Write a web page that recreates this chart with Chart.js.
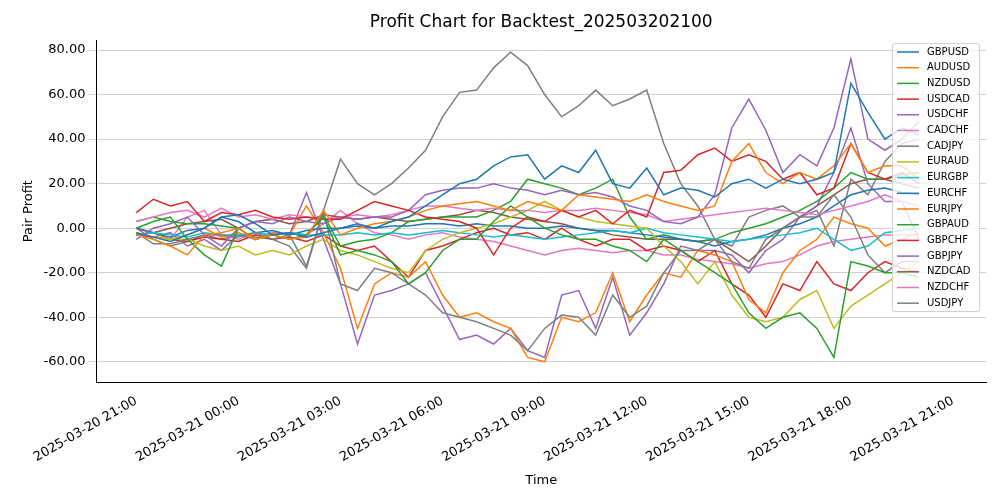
<!DOCTYPE html>
<html><head><meta charset="utf-8">
<script src="https://cdn.jsdelivr.net/npm/chart.js@4.4.1/dist/chart.umd.min.js"></script>
<style>html,body{margin:0;background:#fff}#w{width:1000px;height:500px}</style>
</head><body><div id="w"><canvas id="c"></canvas></div>
<script>
const hours = [-3,-2.5,-2,-1.5,-1,-0.5,0,0.5,1,1.5,2,2.5,3,3.5,4,4.5,5,5.5,6,6.5,7,7.5,8,8.5,9,9.5,10,10.5,11,11.5,12,12.5,13,13.5,14,14.5,15,15.5,16,16.5,17,17.5,18,18.5,19,19.5,20];
const tickHours = [-3,0,3,6,9,12,15,18,21];
const tickLabels = ['2025-03-20 21:00','2025-03-21 00:00','2025-03-21 03:00','2025-03-21 06:00','2025-03-21 09:00','2025-03-21 12:00','2025-03-21 15:00','2025-03-21 18:00','2025-03-21 21:00'];
const chartTitle = 'Profit Chart for Backtest_202503202100';
const names = ['GBPUSD','AUDUSD','NZDUSD','USDCAD','USDCHF','CADCHF','CADJPY','EURAUD','EURGBP','EURCHF','EURJPY','GBPAUD','GBPCHF','GBPJPY','NZDCAD','NZDCHF','USDJPY'];
const colors = ['#1f77b4','#ff7f0e','#2ca02c','#d62728','#9467bd','#e377c2','#7f7f7f','#bcbd22','#17becf','#1f77b4','#ff7f0e','#2ca02c','#d62728','#9467bd','#8c564b','#e377c2','#7f7f7f'];
const GBPUSD = [-2,-4,-6,-3,0,5,6,2,-3,-2,-4,-2,0,2,0,3,5,10,15,20,22,28,32,33,22,28,25,35,20,18,27,15,18,17,14,20,22,18,22,20,22,25,65,52,40,45,42];
const AUDUSD = [-3,-5,-8,-12,-3,-2,0,-5,-3,-5,-4,8,-3,0,2,3,5,8,10,11,12,10,8,12,10,8,15,14,13,12,15,12,10,8,10,30,38,25,20,25,22,28,38,25,28,28,22];
const NZDUSD = [0,3,5,-5,-12,-17,0,-5,-3,-5,-3,5,-12,-10,-12,-15,-25,-20,-10,-5,-5,3,10,5,0,-3,-5,-5,-8,-10,-15,-5,-10,-15,-20,-25,-38,-45,-40,-38,-45,-58,-15,-17,-20,-20,-22];
const USDCAD = [7,13,10,12,3,7,6,8,5,4,5,4,4,8,12,10,8,5,4,3,0,-12,0,5,3,8,5,8,2,8,5,25,26,33,36,30,33,30,22,25,15,18,38,25,22,25,20];
const USDCHF = [-5,0,2,5,-3,-8,0,3,2,5,3,2,5,4,5,5,8,15,17,18,18,20,18,17,15,17,15,16,14,10,8,3,2,5,15,45,58,44,25,33,28,45,76,40,35,40,48];
const CADCHF = [3,5,7,8,5,9,5,6,4,6,5,4,5,6,5,6,8,10,10,9,8,9,8,8,7,8,8,9,8,7,6,3,4,5,6,7,8,9,8,7,6,8,10,12,15,12,10];
const CADJPY = [-2,-7,-7,-5,-3,-3,-4,-2,-5,-3,-17,8,-25,-28,-18,-20,-25,-30,-38,-40,-42,-45,-48,-55,-45,-39,-40,-48,-30,-40,-35,-20,-10,-10,-5,-15,-18,-5,0,5,5,15,5,-12,-20,-15,-15];
const EURAUD = [-2,-4,-5,-5,-8,-10,-8,-12,-10,-12,-8,-5,-10,-12,-15,-18,-20,-10,-5,-2,0,2,5,8,12,8,5,3,2,1,0,-8,-15,-25,-15,-30,-40,-42,-40,-32,-28,-45,-35,-30,-25,-20,-15];
const EURGBP = [-3,-2,-3,-4,-2,-3,-3,-2,-3,-2,-3,-3,-3,-2,-3,-2,-3,-2,-1,-2,-3,-4,-3,-4,-5,-4,-3,-2,-1,-2,0,-2,-3,-4,-5,-6,-5,-4,-3,-2,0,-5,-10,-8,-2,-1,0];
const EURCHF = [0,-2,-4,-1,0,5,3,-2,-1,-3,-1,0,0,1,0,1,1,2,2,1,2,1,1,0,0,1,0,-1,-1,-2,-3,-4,-5,-6,-8,-6,-5,-3,0,2,5,10,15,17,18,16,15];
const EURJPY = [0,-2,-5,-3,0,-4,-2,-5,-2,-3,10,-2,-18,-45,-25,-20,-22,-15,-30,-40,-38,-42,-45,-58,-60,-40,-42,-38,-20,-42,-30,-20,-22,-10,-12,-15,-32,-38,-20,-10,-5,5,2,0,-8,-5,-2];
const GBPAUD = [3,5,3,2,2,1,0,-5,-3,-2,-3,6,-8,-6,-5,-2,3,4,5,5,5,8,12,22,20,18,15,18,22,5,-5,-3,-5,-6,-5,-2,0,2,5,8,12,18,25,22,22,24,25];
const GBPCHF = [-3,-4,-5,-6,-4,-5,-6,-3,-5,-4,-6,-3,-8,-10,-8,-15,-22,-10,-8,-5,-2,0,-3,-2,-5,0,-5,-8,-5,-5,-10,-8,-10,-15,-10,-25,-30,-40,-25,-28,-15,-25,-28,-20,-15,-18,-20];
const GBPJPY = [-3,-4,-2,-8,-5,-10,-3,-5,-2,-3,16,-5,-25,-52,-30,-28,-25,-20,-35,-50,-48,-52,-45,-55,-58,-30,-28,-45,-22,-48,-38,-25,-8,-10,-10,-12,-20,-10,-5,5,10,25,45,20,12,12,-5];
const NZDCAD = [-3,-2,0,2,3,4,0,3,4,2,3,6,5,4,5,4,3,4,5,6,8,7,5,4,3,2,0,-1,-3,-4,-5,-5,-5,-6,-5,-10,-15,-8,0,5,10,15,20,22,22,20,18];
const NZDCHF = [0,-2,-5,5,8,-3,-5,-2,-3,-2,-3,2,8,2,-2,-3,-5,-3,-2,-4,-5,-6,-8,-10,-12,-10,-9,-10,-11,-10,-10,-12,-12,-14,-15,-16,-18,-16,-15,-12,-8,-6,-5,-4,-3,-3,-3];
const USDJPY = [0,-5,-8,-6,-3,-5,-3,-4,-5,-8,-18,8,31,20,15,20,27,35,50,61,62,72,79,73,60,50,55,62,55,58,62,38,20,10,-5,-8,5,8,10,5,8,-8,22,15,30,38,40];
const series = [GBPUSD,AUDUSD,NZDUSD,USDCAD,USDCHF,CADCHF,CADJPY,EURAUD,EURGBP,EURCHF,EURJPY,GBPAUD,GBPCHF,GBPJPY,NZDCAD,NZDCHF,USDJPY];

const legendPlugin = {
  id:'leg',
  afterDraw(ch){
    const c=ch.ctx, x0=892, y0=43, w=87, h=268, row=15.7, a=ch.chartArea;
    c.save();
    c.fillStyle='#000'; c.font='17px "DejaVu Sans"'; c.textAlign='center'; c.textBaseline='middle';
    c.fillText(chartTitle,(a.left+a.right)/2,23);
    c.textAlign='left';
    c.fillStyle='rgba(255,255,255,0.8)'; c.strokeStyle='#d0d0d0'; c.lineWidth=1;
    c.beginPath(); c.roundRect(x0+0.5,y0+0.5,w,h,2); c.fill(); c.stroke();
    c.font='10px "DejaVu Sans"';
    names.forEach((n,i)=>{
      const y=y0+9+i*row;
      c.strokeStyle=colors[i]; c.lineWidth=1.5;
      c.beginPath(); c.moveTo(x0+5,y); c.lineTo(x0+27,y); c.stroke();
      c.fillStyle='#000'; c.fillText(n,x0+35,y);
    });
    c.restore();
  }
};

new Chart(document.getElementById('c'),{
  type:'line',
  data:{datasets: names.map((n,i)=>({label:n,data:hours.map((h,j)=>({x:h,y:series[i][j]})),borderColor:colors[i],backgroundColor:colors[i],borderWidth:1.5,pointRadius:0,tension:0}))},
  options:{
    responsive:true, maintainAspectRatio:false, animation:false,
    layout:{padding:{left:17,right:14,top:40,bottom:8}},
    plugins:{legend:{display:false},tooltip:{enabled:false},title:{display:false}},
    scales:{
      x:{type:'linear',min:-4.17,max:21.97,
        afterBuildTicks(s){s.ticks=tickHours.map(v=>({value:v}));},
        ticks:{autoSkip:false,maxRotation:30,minRotation:30,color:'#000',font:{family:'DejaVu Sans',size:13},
          callback:(v)=>tickLabels[tickHours.indexOf(v)]},
        grid:{display:false},border:{color:'#000'},
        title:{display:true,text:'Time',color:'#000',font:{family:'DejaVu Sans',size:13}}},
      y:{min:-69.2,max:84.5,
        afterBuildTicks(s){s.ticks=[-60,-40,-20,0,20,40,60,80].map(v=>({value:v}));},
        ticks:{color:'#000',font:{family:'DejaVu Sans',size:13},callback:v=>v.toFixed(2)},
        grid:{color:'#d0d0d0',borderDash:[4,3]},border:{color:'#000'},
        title:{display:true,text:'Pair Profit',color:'#000',font:{family:'DejaVu Sans',size:13}}}
    }
  },
  plugins:[legendPlugin]
});
</script></body></html>
